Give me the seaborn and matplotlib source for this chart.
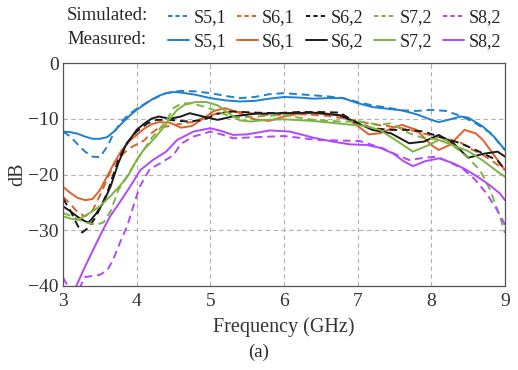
import matplotlib
matplotlib.use("Agg")
import matplotlib.pyplot as plt
from matplotlib.lines import Line2D
import pandas as pd
import seaborn as sns

sns.set_style("ticks")
plt.rcParams["font.family"] = ["Liberation Serif", "DejaVu Serif"]
plt.rcParams["axes.unicode_minus"] = True

# ---- data (frequency in GHz, level in dB) ----
f_s51_sim = [3.0, 3.1, 3.2, 3.3, 3.4, 3.5, 3.6, 3.7, 3.8, 3.9, 4.0, 4.2, 4.4, 4.6, 4.8, 5.0, 5.2, 5.4,
             5.6, 5.8, 6.0, 6.2, 6.4, 6.6, 6.8, 7.0, 7.2, 7.4, 7.6, 7.8, 8.0, 8.2, 8.4, 8.6, 8.8, 9.0]
s51_sim = [-12.3, -13.2, -14.6, -15.9, -16.8, -16.9, -15.0, -12.3, -10.4, -9.2, -8.2, -6.6, -5.4, -5.0,
           -5.1, -5.4, -5.9, -6.3, -6.1, -5.6, -5.4, -5.6, -5.8, -6.0, -6.3, -7.0, -7.6, -8.0, -8.5,
           -8.6, -8.4, -8.6, -9.5, -10.8, -12.5, -15.6]

f_s51_meas = [3.0, 3.1, 3.2, 3.3, 3.4, 3.5, 3.6, 3.7, 3.8, 3.9, 4.0, 4.1, 4.2, 4.3, 4.4, 4.5, 4.6, 4.8,
              5.0, 5.2, 5.4, 5.6, 5.8, 6.0, 6.2, 6.4, 6.6, 6.8, 7.0, 7.2, 7.4, 7.6, 7.8, 8.0, 8.1, 8.2,
              8.4, 8.5, 8.7, 8.85, 9.0]
s51_meas = [-12.3, -12.4, -12.7, -13.2, -13.6, -13.6, -13.3, -12.2, -10.8, -9.5, -8.4, -7.5, -6.6, -5.9,
            -5.4, -5.2, -5.3, -5.7, -6.3, -6.7, -6.9, -6.8, -6.4, -6.1, -6.2, -6.4, -6.3, -6.3, -7.2,
            -7.9, -8.2, -8.5, -9.2, -10.2, -10.6, -10.3, -9.6, -9.8, -11.4, -13.2, -15.6]

f_s61_sim = [3.0, 3.1, 3.2, 3.3, 3.4, 3.5, 3.6, 3.7, 3.8, 3.9, 4.0, 4.1, 4.2, 4.3, 4.45, 4.6, 4.75, 4.9,
             5.1, 5.3, 5.5, 5.7, 6.0, 6.2, 6.4, 6.6, 6.8, 7.0, 7.2, 7.4, 7.6, 7.8, 8.0, 8.2, 8.4, 8.55,
             8.7, 8.85, 9.0]
s61_sim = [-24.0, -25.3, -26.8, -27.5, -26.5, -23.8, -20.8, -18.0, -16.5, -15.3, -14.6, -13.9, -12.6,
           -11.6, -11.3, -10.9, -10.6, -9.9, -9.0, -8.7, -8.9, -9.3, -9.3, -9.2, -9.3, -9.5, -9.9,
           -10.4, -11.0, -11.3, -11.7, -12.3, -13.0, -13.6, -14.3, -15.5, -16.5, -17.8, -19.2]

f_s61_meas = [3.0, 3.1, 3.2, 3.3, 3.4, 3.5, 3.6, 3.7, 3.8, 3.9, 4.0, 4.1, 4.2, 4.3, 4.45, 4.6, 4.75,
              4.9, 5.05, 5.2, 5.4, 5.6, 5.8, 6.0, 6.2, 6.4, 6.6, 6.8, 7.0, 7.15, 7.3, 7.45, 7.6, 7.8,
              8.0, 8.1, 8.25, 8.45, 8.6, 8.7, 8.85, 9.0]
s61_meas = [-22.2, -23.3, -24.2, -24.6, -24.4, -22.8, -20.3, -17.8, -15.6, -14.0, -12.9, -11.8, -11.0,
            -10.6, -10.7, -11.6, -11.3, -10.0, -8.6, -8.1, -9.0, -10.1, -10.4, -9.6, -9.1, -9.0, -9.1,
            -9.4, -11.3, -12.8, -12.6, -11.8, -11.1, -12.0, -14.7, -15.6, -14.7, -12.0, -12.6, -13.8,
            -16.5, -19.2]

f_s62_sim = [3.0, 3.1, 3.2, 3.26, 3.35, 3.45, 3.6, 3.75, 3.87, 4.0, 4.15, 4.27, 4.45, 4.6, 4.72, 4.9,
             5.1, 5.3, 5.6, 5.9, 6.2, 6.5, 6.76, 6.94, 7.2, 7.45, 7.7, 7.9, 8.15, 8.4, 8.7, 8.9, 9.0]
s62_sim = [-24.3, -26.5, -29.2, -30.4, -29.5, -27.5, -23.3, -17.4, -14.3, -12.3, -10.8, -10.2, -10.2,
           -10.4, -10.5, -10.2, -9.1, -8.7, -8.9, -9.0, -8.8, -8.8, -8.9, -10.4, -11.7, -12.0, -12.0,
           -12.3, -13.4, -14.4, -16.2, -17.5, -19.2]

f_s62_meas = [3.0, 3.1, 3.2, 3.3, 3.35, 3.45, 3.55, 3.65, 3.75, 3.85, 4.0, 4.1, 4.2, 4.3, 4.45, 4.6,
              4.72, 4.9, 5.1, 5.3, 5.6, 6.0, 6.4, 6.76, 7.0, 7.2, 7.45, 7.7, 7.9, 8.1, 8.3, 8.5, 8.7,
              8.9, 9.0]
s62_meas = [-25.7, -26.6, -27.6, -28.4, -28.6, -27.0, -25.0, -22.0, -18.0, -14.8, -12.0, -10.9, -10.0,
            -9.6, -10.0, -9.6, -9.0, -9.6, -10.2, -9.6, -9.1, -9.0, -8.9, -9.4, -10.8, -12.0, -12.6,
            -14.4, -14.1, -12.9, -14.4, -17.0, -16.3, -15.9, -16.8]

f_s72_sim = [3.0, 3.1, 3.2, 3.3, 3.45, 3.55, 3.65, 3.75, 3.87, 4.0, 4.1, 4.2, 4.3, 4.4, 4.5, 4.6, 4.72,
             4.88, 5.04, 5.27, 5.4, 5.63, 6.0, 6.2, 6.4, 6.76, 7.03, 7.3, 7.45, 7.7, 7.9, 8.2, 8.48,
             8.66, 8.8, 8.93, 9.0]
s72_sim = [-26.9, -27.4, -28.0, -28.6, -29.0, -28.6, -26.5, -22.8, -20.4, -17.4, -15.5, -13.5, -12.0,
           -10.4, -8.1, -7.3, -7.2, -7.7, -8.4, -9.6, -9.8, -9.6, -9.3, -9.8, -10.2, -10.5, -10.5,
           -11.1, -10.8, -12.6, -13.5, -13.8, -16.8, -19.2, -22.8, -27.5, -30.5]

f_s72_meas = [3.0, 3.1, 3.2, 3.3, 3.4, 3.5, 3.65, 3.8, 3.9, 4.0, 4.1, 4.25, 4.35, 4.45, 4.55, 4.65, 4.8,
              4.95, 5.1, 5.25, 5.4, 5.55, 5.75, 6.0, 6.4, 6.85, 7.1, 7.3, 7.5, 7.75, 7.95, 8.1, 8.3,
              8.5, 8.7, 8.9, 9.0]
s72_meas = [-27.5, -27.9, -28.1, -27.4, -26.6, -25.7, -23.8, -21.6, -19.8, -17.4, -15.5, -13.4, -11.8,
            -10.0, -8.4, -7.5, -7.0, -7.0, -7.6, -9.0, -10.3, -10.5, -10.2, -10.1, -10.4, -11.0,
            -11.3, -12.0, -13.7, -15.9, -14.8, -13.8, -14.8, -15.8, -17.5, -19.5, -20.4]

f_s82_sim = [3.0, 3.1, 3.2, 3.3, 3.5, 3.6, 3.68, 3.78, 3.87, 3.96, 4.04, 4.18, 4.32, 4.5, 4.6, 4.77,
             5.0, 5.15, 5.31, 5.63, 6.0, 6.45, 7.03, 7.34, 7.55, 7.7, 7.9, 8.07, 8.25, 8.43, 8.6,
             8.75, 8.89, 9.0]
s82_sim = [-38.5, -40.8, -41.0, -38.4, -38.0, -37.2, -35.3, -32.0, -29.3, -25.5, -22.2, -19.0, -18.0,
           -16.5, -14.5, -13.2, -12.3, -12.8, -13.5, -13.3, -13.1, -13.8, -14.0, -15.3, -16.6, -17.4,
           -17.0, -16.8, -17.8, -19.0, -21.0, -23.4, -26.3, -29.0]

f_s82_meas = [3.1, 3.18, 3.3, 3.41, 3.52, 3.64, 3.78, 3.91, 4.05, 4.22, 4.4, 4.55, 4.77, 5.0, 5.15,
              5.31, 5.5, 5.81, 6.08, 6.4, 6.66, 6.9, 7.12, 7.3, 7.48, 7.62, 7.75, 7.92, 8.11, 8.3,
              8.48, 8.65, 8.8, 8.93, 9.0]
s82_meas = [-42.0, -40.0, -36.5, -33.5, -30.5, -27.5, -24.8, -22.2, -19.2, -17.4, -15.9, -13.8, -12.3,
            -11.7, -12.2, -12.9, -12.8, -12.1, -12.3, -13.4, -14.1, -14.6, -14.7, -15.2, -16.2, -17.6,
            -18.5, -17.6, -17.1, -18.0, -19.2, -20.6, -22.0, -23.4, -24.6]

port_labels = ["S5,1", "S6,1", "S6,2", "S7,2", "S8,2"]
port_colors = ["#1f7fd0", "#e0602a", "#1a1a1a", "#7cb342", "#b048ff"]

simulated = [(f_s51_sim, s51_sim), (f_s61_sim, s61_sim), (f_s62_sim, s62_sim),
             (f_s72_sim, s72_sim), (f_s82_sim, s82_sim)]
measured = [(f_s51_meas, s51_meas), (f_s61_meas, s61_meas), (f_s62_meas, s62_meas),
            (f_s72_meas, s72_meas), (f_s82_meas, s82_meas)]

fig = plt.figure(figsize=(5.18, 3.70), dpi=100)
ax = fig.add_axes([63 / 518, 1 - 286 / 370, 442 / 518, 223 / 370])

handles = []
for label, color, (fs, ys), (fm, ym) in zip(port_labels, port_colors, simulated, measured):
    df_sim = pd.DataFrame({"freq": fs, "db": ys})
    df_meas = pd.DataFrame({"freq": fm, "db": ym})
    sns.lineplot(data=df_sim, x="freq", y="db", ax=ax, color=color, lw=1.4,
                 linestyle=(0, (4, 2.5)), estimator=None, sort=True)
    sns.lineplot(data=df_meas, x="freq", y="db", ax=ax, color=color, lw=1.4,
                 estimator=None, sort=True)
    handles.append(Line2D([], [], color=color, lw=1.4, linestyle=(0, (2.2, 1.6))))
    handles.append(Line2D([], [], color=color, lw=1.4))

ax.set_xlim(3, 9)
ax.set_ylim(-40, 0)
ax.set_xticks(range(3, 10))
ax.set_yticks(range(-40, 1, 10))
ax.grid(True, color="#b0b0b0", linestyle=(0, (4, 3)), lw=0.8)
for side in ["top", "right", "bottom", "left"]:
    ax.spines[side].set_visible(True)
    ax.spines[side].set_color("#555555")
    ax.spines[side].set_linewidth(0.9)
ax.tick_params(direction="in", length=0, labelsize=14, colors="#333333")
ax.tick_params(axis="x", pad=5)
ax.tick_params(axis="y", pad=3)
ax.set_xlabel("Frequency (GHz)", fontsize=14.5, labelpad=5, color="#333333")
ax.set_ylabel("dB", fontsize=14.5, labelpad=0.5, color="#333333")

labels = []
for lab in port_labels:
    labels += [lab, lab]
fig.legend(handles, labels, ncol=5, loc="upper left", bbox_to_anchor=(159 / 518, 1.0),
           frameon=False, fontsize=13, handlelength=1.15, handletextpad=0.25,
           columnspacing=0.6, labelspacing=0.38, borderaxespad=0.1)
fig.text(67 / 518, 1 - 16 / 370, "Simulated:", fontsize=13.5, va="center", ha="left")
fig.text(67 / 518, 1 - 40 / 370, "Measured:", fontsize=13.5, va="center", ha="left")
fig.text(0.5, 1 - 352 / 370, "(a)", fontsize=13.5, va="center", ha="center")

fig.savefig("out.png", dpi=100)
